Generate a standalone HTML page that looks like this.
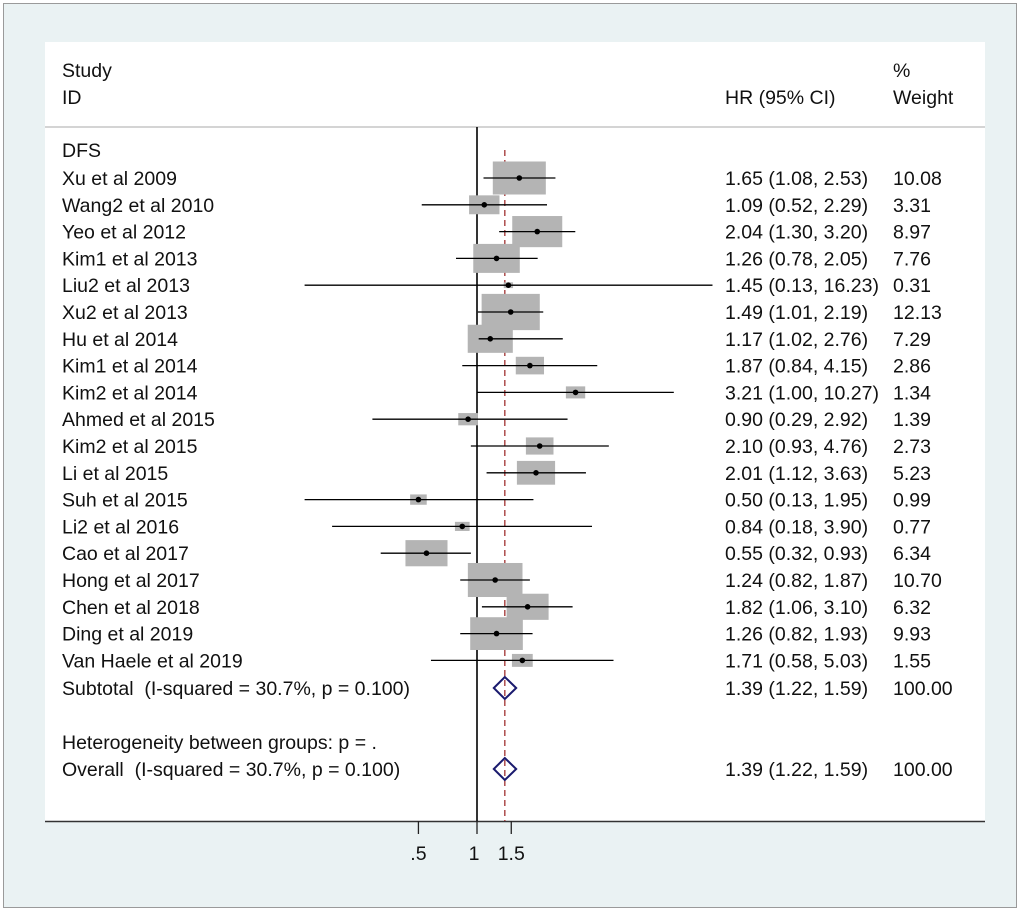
<!DOCTYPE html>
<html><head><meta charset="utf-8"><style>
html,body{margin:0;padding:0;background:#fff;}
svg{display:block;font-family:"Liberation Sans",Arial,sans-serif;}
</style></head><body>
<svg id="chart" width="1020" height="912" xmlns="http://www.w3.org/2000/svg">
<rect x="3.5" y="3.5" width="1013" height="904" fill="#eaf2f3" stroke="#9a9a9a" stroke-width="1"/>
<rect x="45" y="42" width="940" height="779" fill="#fff"/>
<line x1="45" y1="127" x2="985" y2="127" stroke="#aaa" stroke-width="1"/>
<line x1="45" y1="821.5" x2="985" y2="821.5" stroke="#333" stroke-width="1.5"/>
<g font-size="19.5" fill="#111">
<text x="62" y="77">Study</text>
<text x="62" y="104">ID</text>
<text x="725" y="104">HR (95% CI)</text>
<text x="893" y="77">%</text>
<text x="893" y="104">Weight</text>
<text x="62" y="157">DFS</text>
</g>
<g id="marks"></g>
</svg>
<script>
const studies = ["Xu et al 2009","Wang2 et al 2010","Yeo et al 2012","Kim1 et al 2013","Liu2 et al 2013","Xu2 et al 2013","Hu et al 2014","Kim1 et al 2014","Kim2 et al 2014","Ahmed et al 2015","Kim2 et al 2015","Li et al 2015","Suh et al 2015","Li2 et al 2016","Cao et al 2017","Hong et al 2017","Chen et al 2018","Ding et al 2019","Van Haele et al 2019"];
const hr = [1.65,1.09,2.04,1.26,1.45,1.49,1.17,1.87,3.21,0.90,2.10,2.01,0.50,0.84,0.55,1.24,1.82,1.26,1.71];
const lo = [1.08,0.52,1.30,0.78,0.13,1.01,1.02,0.84,1.00,0.29,0.93,1.12,0.13,0.18,0.32,0.82,1.06,0.82,0.58];
const hi = [2.53,2.29,3.20,2.05,16.23,2.19,2.76,4.15,10.27,2.92,4.76,3.63,1.95,3.90,0.93,1.87,3.10,1.93,5.03];
const weights = [10.08,3.31,8.97,7.76,0.31,12.13,7.29,2.86,1.34,1.39,2.73,5.23,0.99,0.77,6.34,10.70,6.32,9.93,1.55];
const pooled = {hr:1.39, lo:1.22, hi:1.59};
const xTicks = [0.5,1,1.5];
const xTickLabels = [".5","1","1.5"];

const NS="http://www.w3.org/2000/svg";
const FS=19.5;
const g=document.getElementById('marks');
const x=v=>477+Math.log(v)*84.5;
const rowY=i=>178+i*26.8;
function el(tag,attrs,parent){const e=document.createElementNS(NS,tag);for(const k in attrs)e.setAttribute(k,attrs[k]);(parent||g).appendChild(e);return e;}
const fmt=v=>v.toFixed(2);

let e=el('line',{x1:x(1),y1:127,x2:x(1),y2:821,stroke:'#000','stroke-width':1.6});


e=el('line',{x1:x(pooled.hr),y1:150,x2:x(pooled.hr),y2:821,stroke:'#a03030','stroke-width':1.3,'stroke-dasharray':'6,4'});



studies.forEach((s,i)=>{
  const y=rowY(i);
  const w=16.7*Math.sqrt(weights[i]), h=10.4*Math.sqrt(weights[i]);
  let b=el('rect',{x:x(hr[i])-w/2,y:y-h/2,width:w,height:h,fill:'#b4b4b4'});
  
  
  let l=el('line',{x1:x(lo[i]),y1:y,x2:x(hi[i]),y2:y,stroke:'#000','stroke-width':1.3});
  
  
  let d=el('circle',{cx:x(hr[i]),cy:y,r:2.8,fill:'#000'});
  
  
  let t=el('text',{x:62,y:y+7,'font-size':FS,fill:'#111'});t.textContent=s;
  
  
  let c=el('text',{x:725,y:y+7,'font-size':FS,fill:'#111'});c.textContent=`${fmt(hr[i])} (${fmt(lo[i])}, ${fmt(hi[i])})`;
  
  
  let wt=el('text',{x:893,y:y+7,'font-size':FS,fill:'#111'});wt.textContent=fmt(weights[i]);
  
  
});

function summary(y,label,name){
  let p=el('polygon',{points:`${x(pooled.lo)},${y} ${x(pooled.hr)},${y-11} ${x(pooled.hi)},${y} ${x(pooled.hr)},${y+11}`,fill:'none',stroke:'#1a1a6e','stroke-width':2});
  
  
  let t=el('text',{x:62,y:y+7,'font-size':FS,fill:'#111'});t.textContent=label;
  
  
  let c=el('text',{x:725,y:y+7,'font-size':FS,fill:'#111'});c.textContent=`${fmt(pooled.hr)} (${fmt(pooled.lo)}, ${fmt(pooled.hi)})`;
  
  
  let w=el('text',{x:893,y:y+7,'font-size':FS,fill:'#111'});w.textContent='100.00';
  
  
}
summary(688,'Subtotal\u00a0 (I-squared = 30.7%, p = 0.100)','subtotal');
let ht=el('text',{x:62,y:749,'font-size':FS,fill:'#111'});ht.textContent='Heterogeneity between groups: p = .';


summary(769,'Overall\u00a0 (I-squared = 30.7%, p = 0.100)','overall');

xTicks.forEach((v,i)=>{
  let t=el('line',{x1:x(v),y1:821,x2:x(v),y2:834,stroke:'#222','stroke-width':1.3});
  
  
  let lb=el('text',{x:x(v)-(i==1?3:0),y:860,'font-size':FS,fill:'#111','text-anchor':'middle'});lb.textContent=xTickLabels[i];
  
  
});
</script>
</body></html>
